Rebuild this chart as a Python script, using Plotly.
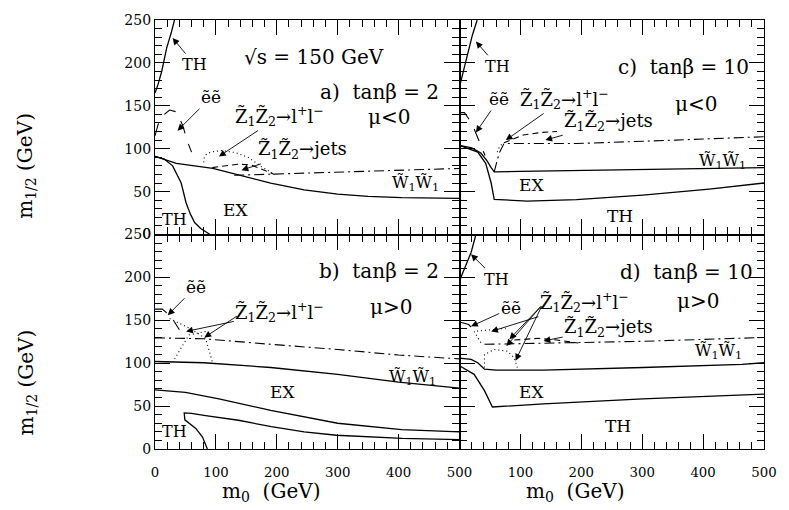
import plotly.graph_objects as go
from plotly.subplots import make_subplots

# ---------------- data (m0, m1/2) in GeV ----------------
# panel a) tanb=2, mu<0
a_th_up_x = [0, 5, 11, 19, 27, 32]
a_th_up_y = [165, 175, 190, 217, 236, 250]
a_th_low_x = [0, 15, 29, 43, 51, 58, 65, 75, 86, 90]
a_th_low_y = [91, 88, 80, 60, 37, 24, 14, 7, 2, 0]
a_ex_x = [0, 35, 95, 135, 190, 245, 300, 350, 405, 500]
a_ex_y = [91, 83, 77, 70, 60, 52, 47, 44.5, 43, 42]
a_ww_x = [130, 200, 300, 400, 500]
a_ww_y = [69, 70.5, 72, 74, 77]
a_ll_x = [80, 81, 85, 92, 108, 132, 153, 175, 196]
a_ll_y = [84, 90, 94, 96, 98, 95.5, 90, 79, 70]
a_jets_x = [94, 115, 137, 158, 180, 196]
a_jets_y = [78, 80, 82, 81, 75, 70]
a_ee_x = [0, 5, 10, 24, 35, 45, 55, 60]
a_ee_y = [115, 128, 137, 145, 143, 128, 105, 96]

# panel c) tanb=10, mu<0
c_th_up_x = [0, 6, 13, 21, 29]
c_th_up_y = [172, 190, 210, 232, 250]
c_ex_up_x = [0, 20, 35, 45, 52, 57, 100, 200, 300, 400, 500]
c_ex_up_y = [104, 101, 95, 86, 78, 73, 73.5, 74.5, 75.5, 77, 78]
c_ex_low_x = [0, 30, 43, 52, 57, 111, 192, 301, 410, 500]
c_ex_low_y = [104, 96, 83, 60, 41, 39, 40.7, 46, 53, 60]
c_ww_x = [57, 65, 73, 192, 355, 500]
c_ww_y = [73, 94.5, 106, 106, 110, 114]
c_jets_x = [73, 105, 135, 160]
c_jets_y = [107, 116, 119, 120]
c_ll_x = [62, 66, 73]
c_ll_y = [96, 103, 107]
c_ee_x = [0, 8, 20, 33, 42]
c_ee_y = [142, 142, 130, 108, 92]

# panel b) tanb=2, mu>0
b_ex_up_x = [0, 80, 190, 300, 400, 500]
b_ex_up_y = [102, 100.5, 95, 87, 78, 71]
b_ex_low_x = [0, 50, 105, 190, 300, 405, 500]
b_ex_low_y = [69, 66, 58.5, 45, 30, 22.5, 20]
b_th_x = [86, 78, 67, 55, 49, 48, 60, 83, 137, 191, 245, 298, 406, 500]
b_th_y = [0, 14, 24, 30, 34, 42, 41.5, 39, 33.5, 26, 20, 16, 12.5, 11]
b_ww_x = [0, 80, 190, 300, 400, 500]
b_ww_y = [129.5, 128.5, 122, 116, 109.5, 105]
b_ll1_x = [24, 56, 83, 94]
b_ll1_y = [152, 141, 129, 102]
b_ll2_x = [83, 56, 43, 30]
b_ll2_y = [137, 133, 118, 102]
b_ee_x = [0, 12, 22, 32, 40]
b_ee_y = [163, 163, 157, 148, 139]

# panel d) tanb=10, mu>0
d_th_up_x = [0, 10, 19, 27]
d_th_up_y = [196, 213, 229, 250]
d_ex_up_x = [0, 19, 30, 41, 60, 138, 301, 464, 500]
d_ex_up_y = [106, 104.5, 100.5, 93, 92, 92, 95, 98.7, 100.5]
d_ex_low_x = [0, 24, 41, 54, 138, 301, 500]
d_ex_low_y = [97, 87, 68, 49, 52.5, 58.5, 64]
d_ww_x = [41, 138, 301, 500]
d_ww_y = [122, 123.5, 125.5, 130]
d_jets_x = [90, 130, 160, 195]
d_jets_y = [127, 129, 127, 123.5]
d_ll1_x = [35, 24, 52, 79]
d_ll1_y = [124, 137, 139, 141]
d_ll2_x = [41, 41, 57, 79, 90, 95]
d_ll2_y = [95, 110, 116, 114, 106, 95]
d_ee_x = [0, 15, 25]
d_ee_y = [148, 145, 138]

x_ticks = [0, 100, 200, 300, 400, 500]
y_ticks = [0, 50, 100, 150, 200, 250]

# ---------------- figure ----------------
FONT = "DejaVu Serif"
SOLID = "solid"
DASHDOT = "10px,4px,2px,4px"
DASHED = "6px,4px"
DOTTED = "1px,3px"
LONGDASH = "13px,11px"

fig = make_subplots(rows=2, cols=2, horizontal_spacing=0, vertical_spacing=0)


def line(r, c, x, y, dash, w=1.3):
    fig.add_trace(go.Scatter(x=x, y=y, mode="lines",
                             line=dict(color="black", width=w, dash=dash),
                             showlegend=False, hoverinfo="skip"), row=r, col=c)


# a
line(1, 1, a_th_up_x, a_th_up_y, SOLID)
line(1, 1, a_th_low_x, a_th_low_y, SOLID)
line(1, 1, a_ex_x, a_ex_y, SOLID)
line(1, 1, a_ww_x, a_ww_y, DASHDOT, 1.1)
line(1, 1, a_ll_x, a_ll_y, DOTTED, 1.1)
line(1, 1, a_jets_x, a_jets_y, DASHED, 1.1)
line(1, 1, a_ee_x, a_ee_y, LONGDASH, 1.1)
# c
line(1, 2, c_th_up_x, c_th_up_y, SOLID)
line(1, 2, c_ex_up_x, c_ex_up_y, SOLID)
line(1, 2, c_ex_low_x, c_ex_low_y, SOLID)
line(1, 2, c_ww_x, c_ww_y, DASHDOT, 1.1)
line(1, 2, c_jets_x, c_jets_y, DASHED, 1.1)
line(1, 2, c_ll_x, c_ll_y, DOTTED, 1.1)
line(1, 2, c_ee_x, c_ee_y, LONGDASH, 1.1)
# b
line(2, 1, b_ex_up_x, b_ex_up_y, SOLID)
line(2, 1, b_ex_low_x, b_ex_low_y, SOLID)
line(2, 1, b_th_x, b_th_y, SOLID)
line(2, 1, b_ww_x, b_ww_y, DASHDOT, 1.1)
line(2, 1, b_ll1_x, b_ll1_y, DOTTED, 1.1)
line(2, 1, b_ll2_x, b_ll2_y, DOTTED, 1.1)
line(2, 1, b_ee_x, b_ee_y, LONGDASH, 1.1)
# d
line(2, 2, d_th_up_x, d_th_up_y, SOLID)
line(2, 2, d_ex_up_x, d_ex_up_y, SOLID)
line(2, 2, d_ex_low_x, d_ex_low_y, SOLID)
line(2, 2, d_ww_x, d_ww_y, DASHDOT, 1.1)
line(2, 2, d_jets_x, d_jets_y, DASHED, 1.1)
line(2, 2, d_ll1_x, d_ll1_y, DOTTED, 1.1)
line(2, 2, d_ll2_x, d_ll2_y, DOTTED, 1.1)
line(2, 2, d_ee_x, d_ee_y, LONGDASH, 1.1)

# ---------------- axes ----------------
for r in (1, 2):
    for c in (1, 2):
        # subscript wrapper only nudges the labels a few px lower, like the original
        xt = ["<sub>%d</sub>" % v for v in x_ticks]
        if c == 2:
            xt[0] = ""
        fig.update_xaxes(
            range=[0, 500], tickvals=x_ticks, ticktext=xt,
            showticklabels=(r == 2),
            ticks="inside", ticklen=15, tickwidth=1.1, tickcolor="black",
            showline=True, linecolor="black", linewidth=1.3, mirror="ticks",
            showgrid=False, zeroline=False,
            minor=dict(dtick=20, tick0=0, ticks="inside", ticklen=7,
                       tickwidth=1, tickcolor="black"),
            tickfont=dict(family=FONT, size=19, color="black"),
            row=r, col=c)
        fig.update_yaxes(
            range=[0, 250], tickvals=y_ticks,
            showticklabels=(c == 1), ticksuffix="\u00a0",
            ticks="inside", ticklen=15, tickwidth=1.1, tickcolor="black",
            showline=True, linecolor="black", linewidth=1.3, mirror="ticks",
            showgrid=False, zeroline=False,
            minor=dict(dtick=10, tick0=0, ticks="inside", ticklen=7,
                       tickwidth=1, tickcolor="black"),
            tickfont=dict(family=FONT, size=14, color="black"),
            row=r, col=c)

# ---------------- annotations ----------------
Zll = "Z\u0303<sub>1</sub>Z\u0303<sub>2</sub>\u2192l<sup>+</sup>l<sup>\u2212</sup>"
Zjets = "Z\u0303<sub>1</sub>Z\u0303<sub>2</sub>\u2192jets"
WW = "W\u0303<sub>1</sub>W\u0303<sub>1</sub>"
EE = "\u1ebd\u1ebd"

refs = {"a": ("x", "y"), "c": ("x2", "y2"), "b": ("x3", "y3"), "d": ("x4", "y4")}

# plain labels: (panel, x, y, text, size, xanchor)
labels = [
    ("a", 261, 207, "\u221as = 150 GeV", 20, "center"),
    ("a", 470, 166, "a)  tan\u03b2 = 2", 20, "right"),
    ("a", 384, 137, "\u03bc<0", 20, "center"),
    ("a", 427, 60, WW, 16, "center"),
    ("a", 132, 28, "EX", 17, "center"),
    ("a", 32, 17, "TH", 16, "center"),
    ("c", 478, 195, "c)  tan\u03b2 = 10", 20, "right"),
    ("c", 388, 152, "\u03bc<0", 20, "center"),
    ("c", 432, 85, WW, 16, "center"),
    ("c", 119, 58, "EX", 17, "center"),
    ("c", 264, 22, "TH", 17, "center"),
    ("b", 470, 208, "b)  tan\u03b2 = 2", 20, "right"),
    ("b", 387, 166, "\u03bc>0", 20, "center"),
    ("b", 422, 83, WW, 16, "center"),
    ("b", 210, 66, "EX", 17, "center"),
    ("b", 32, 20, "TH", 16, "center"),
    ("d", 485, 206, "d)  tan\u03b2 = 10", 20, "right"),
    ("d", 391, 173, "\u03bc>0", 20, "center"),
    ("d", 426, 114, WW, 16, "center"),
    ("d", 119, 66, "EX", 17, "center"),
    ("d", 260, 27, "TH", 17, "center"),
]

# labels carrying an arrow: (panel, text centre x, y, head x, head y, text, size)
pointers = [
    ("a", 65, 198, 29, 229, "TH", 16),
    ("a", 92, 160, 37, 121, EE, 17),
    ("a", 205, 138, 105, 91, Zll, 18),
    ("a", 243, 98, 142, 75, Zjets, 18),
    ("c", 62, 196, 27, 225, "TH", 16),
    ("c", 65, 158, 27, 119, EE, 17),
    ("c", 172, 158, 76, 110, Zll, 18),
    ("c", 245, 131, 141, 110, Zjets, 18),
    ("b", 67, 189, 21, 156, EE, 17),
    ("b", 205, 160, 51, 137, Zll, 18),
    ("d", 60, 198, 19, 227, "TH", 16),
    ("d", 84, 164, 19, 143, EE, 17),
    ("d", 205, 171, 52, 137, Zll, 18),
    ("d", 245, 141, 138, 126, Zjets, 18),
]

# extra arrows without text: (panel, tail x, tail y, head x, head y)
arrows = [
    ("b", 137, 156, 81, 130),
    ("d", 136, 168, 82, 128),
    ("d", 136, 168, 77, 120),
    ("d", 136, 168, 92, 103),
]

for p, x, y, t, s, xa in labels:
    xr, yr = refs[p]
    fig.add_annotation(x=x, y=y, xref=xr, yref=yr, text=t, showarrow=False,
                       xanchor=xa, yanchor="middle",
                       font=dict(family=FONT, size=s, color="black"))

for p, tx, ty, hx, hy, t, s in pointers:
    xr, yr = refs[p]
    fig.add_annotation(x=hx, y=hy, ax=tx, ay=ty, xref=xr, yref=yr,
                       axref=xr, ayref=yr, text=t, showarrow=True,
                       arrowhead=2, arrowsize=1.5, arrowwidth=0.9,
                       arrowcolor="black",
                       font=dict(family=FONT, size=s, color="black"))

for p, tx, ty, hx, hy in arrows:
    xr, yr = refs[p]
    fig.add_annotation(x=hx, y=hy, ax=tx, ay=ty, xref=xr, yref=yr,
                       axref=xr, ayref=yr, text="", showarrow=True,
                       arrowhead=2, arrowsize=1.5, arrowwidth=0.9,
                       arrowcolor="black")

# axis titles
ytitle = "m<sub>1/2</sub> (GeV)"
xtitle = "m<sub>0</sub>  (GeV)"
for yy in (0.659, 0.154):
    fig.add_annotation(x=-0.211, y=yy, xref="paper", yref="paper", text=ytitle,
                       textangle=-90, showarrow=False, xanchor="center",
                       yanchor="middle", font=dict(family=FONT, size=20, color="black"))
for xx in (0.191, 0.690):
    fig.add_annotation(x=xx, y=-0.101, xref="paper", yref="paper", text=xtitle,
                       showarrow=False, xanchor="center", yanchor="middle",
                       font=dict(family=FONT, size=20, color="black"))

fig.update_layout(width=789, height=510,
                  margin=dict(l=155, r=17, t=15, b=61),
                  paper_bgcolor="white", plot_bgcolor="white",
                  showlegend=False)

fig.write_html("out.html", config={"displayModeBar": False},
               post_script="document.body.style.margin='0px';"
                           "document.body.style.overflow='hidden';")
